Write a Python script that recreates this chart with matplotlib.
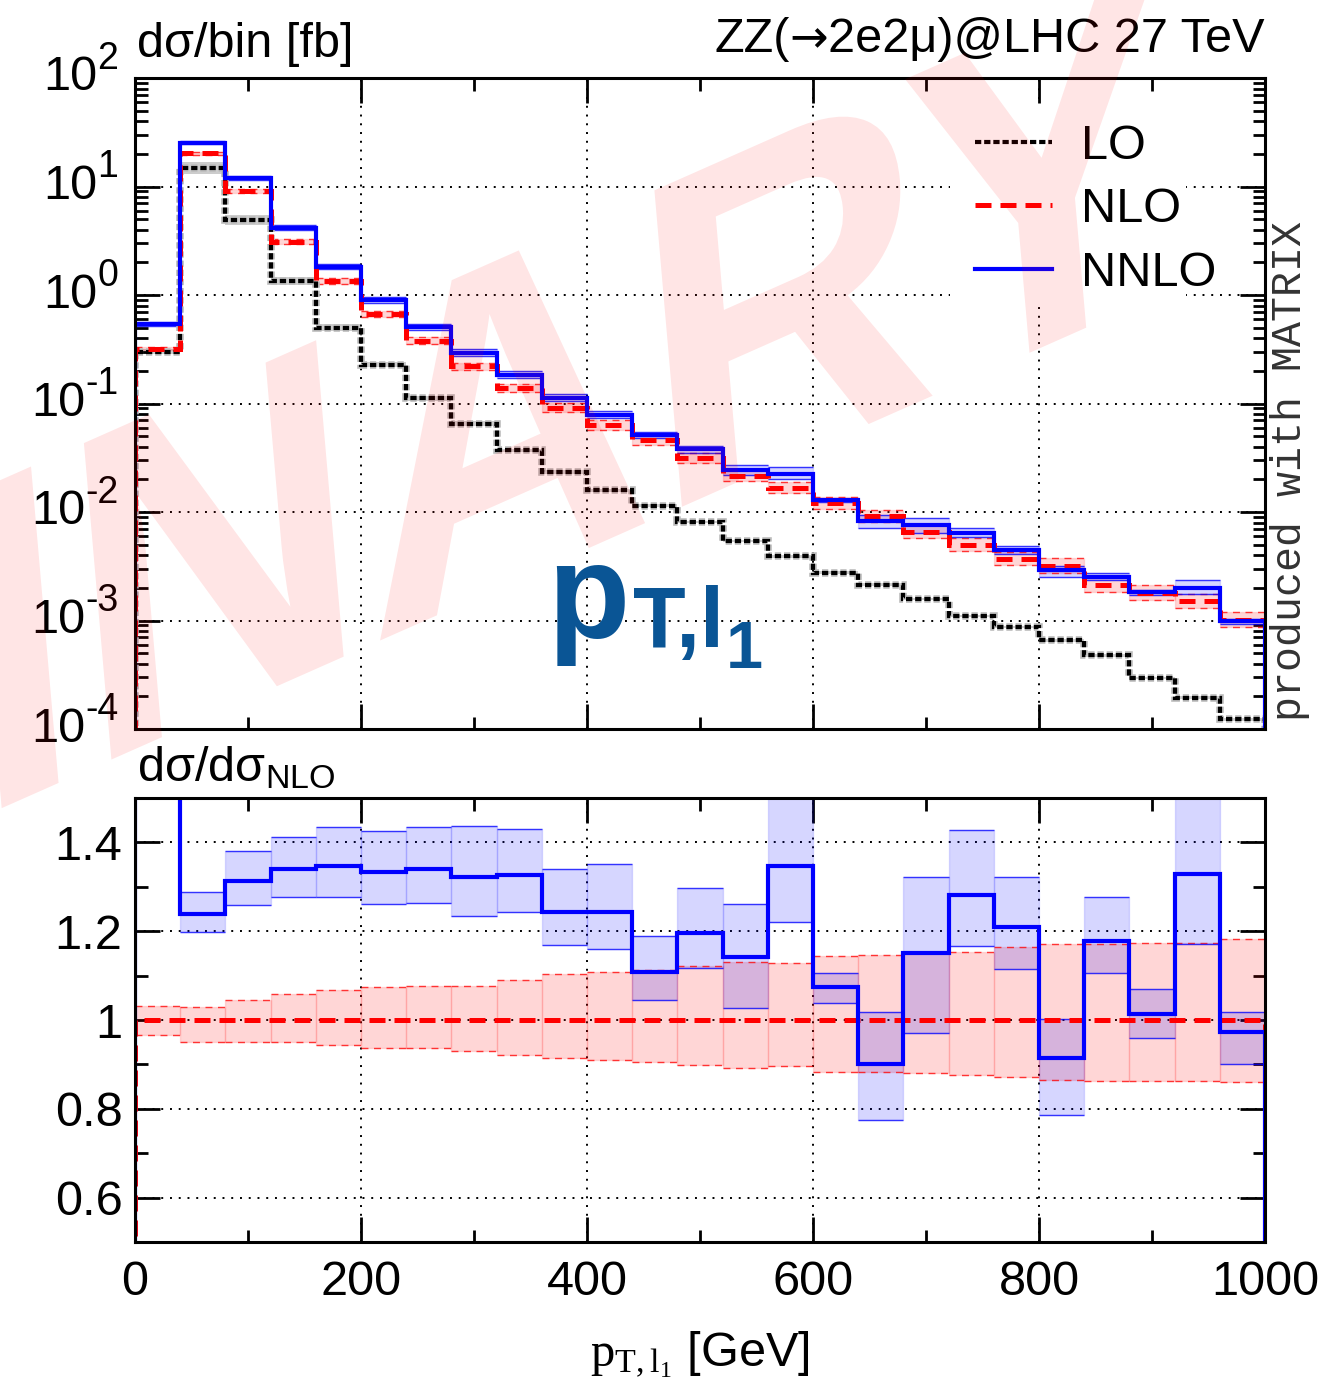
import numpy as np
import matplotlib
matplotlib.use("Agg")
import matplotlib.pyplot as plt
import matplotlib.patheffects as pe
from matplotlib.font_manager import FontProperties
from matplotlib.lines import Line2D
from matplotlib.patches import PathPatch, Rectangle
from matplotlib.textpath import TextPath
from matplotlib.transforms import Affine2D, IdentityTransform
from matplotlib.ticker import FixedLocator, FixedFormatter, LogLocator, MultipleLocator, NullFormatter

plt.rcParams["font.family"] = ["Liberation Sans", "DejaVu Sans"]
plt.rcParams["mathtext.fontset"] = "custom"
plt.rcParams["mathtext.rm"] = "Liberation Sans"
plt.rcParams["mathtext.it"] = "Liberation Sans:italic"
plt.rcParams["mathtext.bf"] = "Liberation Sans:bold"
plt.rcParams["mathtext.sf"] = "Liberation Serif"

# --- data ---
bin_edges = np.arange(0, 1001, 40)

lo = [0.30, 14.8, 4.9, 1.35, 0.50, 0.226, 0.112, 0.065, 0.037, 0.0234, 0.0158, 0.0114, 0.0081,
      0.0054, 0.0039, 0.00275, 0.00213, 0.00158, 0.0011, 0.00087, 0.00066, 0.00048, 0.000295,
      0.000195, 0.000123]
lo_up = [1.06, 1.14, 1.11, 1.09, 1.07, 1.06, 1.05, 1.05, 1.04, 1.04, 1.04, 1.03, 1.03,
         1.03, 1.03, 1.03, 1.03, 1.03, 1.03, 1.03, 1.03, 1.03, 1.03, 1.03, 1.03]
lo_dn = [0.95, 0.88, 0.90, 0.92, 0.94, 0.95, 0.95, 0.96, 0.96, 0.96, 0.97, 0.97, 0.97,
         0.97, 0.97, 0.97, 0.97, 0.97, 0.97, 0.97, 0.97, 0.97, 0.97, 0.97, 0.97]

nlo = [0.32, 20.4, 9.1, 3.1, 1.35, 0.67, 0.38, 0.22, 0.138, 0.091, 0.063, 0.046, 0.0315,
       0.0215, 0.0166, 0.0120, 0.0092, 0.0066, 0.0050, 0.0037, 0.0032, 0.00213, 0.0018,
       0.00151, 0.00102]
nlo_up = [1.032, 1.029, 1.044, 1.059, 1.068, 1.074, 1.077, 1.077, 1.089, 1.104, 1.108, 1.113,
          1.122, 1.131, 1.128, 1.145, 1.146, 1.150, 1.153, 1.165, 1.171, 1.171, 1.174, 1.174, 1.183]
nlo_dn = [0.966, 0.950, 0.950, 0.950, 0.944, 0.938, 0.936, 0.931, 0.921, 0.914, 0.910, 0.906,
          0.899, 0.893, 0.896, 0.883, 0.883, 0.881, 0.877, 0.871, 0.865, 0.863, 0.862, 0.863, 0.860]

# NNLO given relative to NLO central value
nnlo_ratio = [1.69, 1.239, 1.314, 1.340, 1.347, 1.334, 1.341, 1.323, 1.327, 1.243, 1.244, 1.109,
              1.197, 1.141, 1.346, 1.075, 0.902, 1.150, 1.282, 1.209, 0.914, 1.179, 1.013, 1.329, 0.974]
nnlo_up = [1.76, 1.289, 1.381, 1.413, 1.434, 1.425, 1.434, 1.436, 1.430, 1.340, 1.352, 1.189,
           1.298, 1.261, 1.56, 1.105, 1.019, 1.322, 1.428, 1.323, 1.002, 1.277, 1.069, 1.56, 1.017]
nnlo_dn = [1.62, 1.199, 1.258, 1.277, 1.278, 1.262, 1.263, 1.235, 1.244, 1.168, 1.159, 1.044,
           1.117, 1.027, 1.220, 1.039, 0.775, 0.971, 1.167, 1.114, 0.786, 1.105, 0.960, 1.171, 0.902]

decades = [-4, -3, -2, -1, 0, 1, 2]
ratio_ticks = [0.6, 0.8, 1.0, 1.2, 1.4]
ratio_tick_labels = ["0.6", "0.8", "1", "1.2", "1.4"]

# --- figure ---
W, H = 1329, 1385
FS = 35


def box(left, top, right, bottom):
    return [left / W, 1 - bottom / H, (right - left) / W, (bottom - top) / H]


fig = plt.figure(figsize=(W / 100, H / 100), dpi=100)
ax = fig.add_axes(box(135, 78, 1265, 729))
rx = fig.add_axes(box(135, 798, 1265, 1242))

left = bin_edges[:-1]
width = np.diff(bin_edges)
lo_a, nlo_a = np.array(lo), np.array(nlo)
nnlo_a = nlo_a * np.array(nnlo_ratio)

LO_STYLE = dict(color="black", lw=3.0, linestyle=(0, (1.5, 0.7)))
NLO_STYLE = dict(color="red", lw=3.6, linestyle=(0, (3.2, 1.8)))
NNLO_STYLE = dict(color="blue", lw=3.0, linestyle="-")


def band(axis, centre, up, dn, rgb, edge_ls):
    lo_edge = centre * np.array(dn)
    hi_edge = centre * np.array(up)
    axis.bar(left, hi_edge - lo_edge, bottom=lo_edge, width=width, align="edge",
             color=rgb + (0.16,), edgecolor=rgb + (0.12,), linewidth=1.0, zorder=2)
    for e in (lo_edge, hi_edge):
        axis.hlines(e, bin_edges[:-1], bin_edges[1:], color=rgb, alpha=0.75,
                    lw=1.0, linestyle=edge_ls, zorder=2.1)


# top panel
ax.bar(left, lo_a * (np.array(lo_up) - np.array(lo_dn)), bottom=lo_a * np.array(lo_dn),
       width=width, align="edge", color=(0, 0, 0, 0.2), linewidth=0, zorder=2)
band(ax, nlo_a, nlo_up, nlo_dn, (1.0, 0.0, 0.0), (0, (5, 4)))
band(ax, nlo_a, nnlo_up, nnlo_dn, (0.0, 0.0, 1.0), "-")
ax.stairs(lo_a, bin_edges, zorder=3,
          path_effects=[pe.Stroke(linewidth=5.5, foreground="#bdbdbd"), pe.Normal()], **LO_STYLE)
ax.stairs(nlo_a, bin_edges, zorder=3, **NLO_STYLE)
ax.stairs(nnlo_a, bin_edges, zorder=3, **NNLO_STYLE)

ax.set_yscale("log")
ax.set_ylim(1e-4, 1e2)
ax.set_xlim(0, 1000)
ax.yaxis.set_minor_locator(LogLocator(base=10, subs=np.arange(2, 10), numticks=20))
ax.yaxis.set_minor_formatter(NullFormatter())
ax.yaxis.set_major_formatter(NullFormatter())
ax.xaxis.set_major_locator(MultipleLocator(200))
ax.xaxis.set_minor_locator(MultipleLocator(100))
ax.xaxis.set_major_formatter(NullFormatter())

# decade labels "10" + raised exponent
ytrans = ax.get_yaxis_transform()
for d in decades:
    ex = ax.annotate(str(d), xy=(0, 10.0 ** d), xycoords=ytrans, xytext=(-12, 1),
                     textcoords="offset points", ha="right", va="bottom", fontsize=27)
    ax.annotate("10", xy=(0, 10.0 ** d), xycoords=(ex, ytrans), ha="right", va="center",
                fontsize=FS)

# ratio panel
ones = nlo_a / nlo_a
band(rx, ones, nlo_up, nlo_dn, (1.0, 0.0, 0.0), (0, (5, 4)))
band(rx, ones, nnlo_up, nnlo_dn, (0.0, 0.0, 1.0), "-")
rx.stairs(ones, bin_edges, zorder=3, **NLO_STYLE)
rx.stairs(nnlo_a / nlo_a, bin_edges, zorder=3, **NNLO_STYLE)
rx.set_xlim(0, 1000)
rx.set_ylim(0.5, 1.5)
rx.yaxis.set_major_locator(FixedLocator(ratio_ticks))
rx.yaxis.set_major_formatter(FixedFormatter(ratio_tick_labels))
rx.yaxis.set_minor_locator(MultipleLocator(0.1))
rx.xaxis.set_major_locator(MultipleLocator(200))
rx.xaxis.set_minor_locator(MultipleLocator(100))

for a in (ax, rx):
    a.set_axisbelow(True)
    a.grid(True, which="major", color="black", linestyle=(0, (1, 3.5)), linewidth=1.4)
    a.tick_params(which="both", direction="in", top=True, right=True, width=2.0,
                  labelsize=FS, pad=9)
    a.tick_params(which="major", length=18)
    a.tick_params(which="minor", length=9)
    for s in a.spines.values():
        s.set_linewidth(2.2)
        s.set_zorder(5)
rx.tick_params(axis="x", which="both", pad=13)

rx.set_xlabel(r"$\mathsf{p_{T,l_1}}$ [GeV]", fontsize=FS, labelpad=18)

# legend with opaque key area
ax.add_patch(Rectangle(((950 - 135) / 1130, (729 - 305) / 651), (1186 - 950) / 1130,
                       (305 - 104) / 651, transform=ax.transAxes, facecolor="white",
                       edgecolor="none", zorder=0.8))
handles = [Line2D([], [], **LO_STYLE), Line2D([], [], **NLO_STYLE), Line2D([], [], **NNLO_STYLE)]
ax.legend(handles, ["LO", "NLO", "NNLO"], loc="upper left",
          bbox_to_anchor=((975 - 135) / 1130, (729 - 124) / 651), frameon=False,
          fontsize=FS, handlelength=1.58, handletextpad=0.6, labelspacing=0.38,
          borderpad=0, borderaxespad=0)

# texts
fig.text(137 / W, 1 - 57 / H, "dσ/bin [fb]", fontsize=FS, va="baseline")
t3 = fig.text(1265 / W, 1 - 52 / H, "2e2μ)@LHC 27 TeV", fontsize=FS, ha="right", va="baseline")
arr = fig.add_artist(plt.Annotation("→", xy=(0, 0), xycoords=t3, ha="right", va="bottom",
                                    fontsize=FS * 0.95, family="DejaVu Sans"))
fig.add_artist(plt.Annotation("ZZ(", xy=(0, 0), xycoords=(arr, t3), ha="right", va="bottom",
                              fontsize=FS))
fig.text(137 / W, 1 - 781 / H, r"dσ/dσ$_{\mathrm{NLO}}$", fontsize=FS, va="baseline")

# big observable label
p_txt = fig.text(547 / W, 1 - 638 / H, "p", fontsize=97, fontweight="bold", color="#0a5595",
                 va="baseline")
sub = fig.add_artist(plt.Annotation("T,l", xy=(1, 0), xycoords=(p_txt, "figure pixels"),
                                    xytext=(4, H - 647), textcoords=("offset pixels", "figure pixels"),
                                    ha="left", va="baseline", fontsize=62, fontweight="bold",
                                    color="#0a5595"))
fig.add_artist(plt.Annotation("1", xy=(1, 0), xycoords=(sub, "figure pixels"),
                              xytext=(1, H - 668), textcoords=("offset pixels", "figure pixels"),
                              ha="left", va="baseline", fontsize=48, fontweight="bold",
                              color="#0a5595"))

fig.text(1290 / W, 1 - 471 / H, "produced with MATRIX", rotation=90, ha="center",
         va="center", family="Liberation Mono", fontsize=30, color="#333333")

# PRELIMINARY watermark (sheared, drawn on top)
wm = TextPath((0, 0), "PRELIMINARY", size=1,
              prop=FontProperties(family="Liberation Sans", weight="bold"))
wm_tf = Affine2D(np.array([[395.0, -40.0, -1517.0], [175.0, 460.0, -96.0], [0.0, 0.0, 1.0]]))
fig.add_artist(PathPatch(wm_tf.transform_path(wm), facecolor=(1, 0, 0, 0.1),
                         edgecolor="none", transform=IdentityTransform(), zorder=10))

fig.savefig("out.png", dpi=100)
